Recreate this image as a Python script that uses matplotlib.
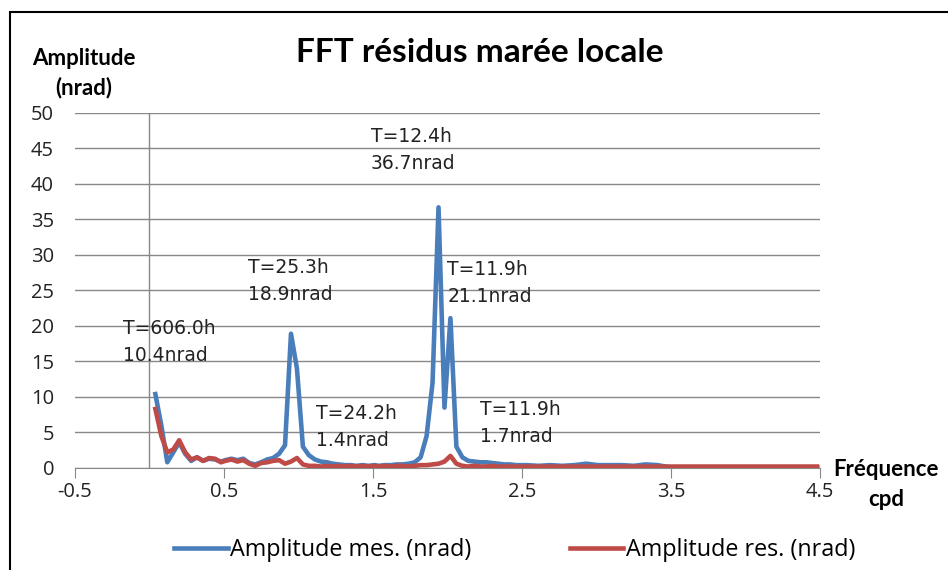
import matplotlib
matplotlib.use("Agg")
import matplotlib.pyplot as plt
from matplotlib.patches import Rectangle

# Data (frequency in cpd, amplitudes in nrad)
freq = [0.04, 0.08, 0.12, 0.16, 0.20, 0.24, 0.28, 0.32, 0.36, 0.40,
        0.44, 0.48, 0.51, 0.55, 0.59, 0.63, 0.67, 0.71, 0.75, 0.79,
        0.83, 0.87, 0.91, 0.95, 0.99, 1.03, 1.07, 1.11, 1.15, 1.19,
        1.23, 1.27, 1.31, 1.35, 1.39, 1.43, 1.47, 1.51, 1.54, 1.58,
        1.62, 1.66, 1.70, 1.74, 1.78, 1.82, 1.86, 1.90, 1.94, 1.98,
        2.02, 2.06, 2.10, 2.14, 2.18, 2.22, 2.26, 2.30, 2.34, 2.38,
        2.42, 2.46, 2.53, 2.61, 2.69, 2.77, 2.85, 2.93, 3.01, 3.09,
        3.17, 3.25, 3.33, 3.41, 3.49, 3.60, 3.80, 4.00, 4.20, 4.40,
        4.48]
amp_mes = [10.4, 6.0, 0.8, 2.2, 3.6, 2.0, 1.0, 1.5, 1.0, 1.3,
           1.2, 0.9, 1.1, 1.3, 1.1, 1.3, 0.7, 0.5, 0.8, 1.2,
           1.4, 2.0, 3.2, 18.9, 14.0, 3.0, 1.8, 1.2, 0.9, 0.8,
           0.6, 0.5, 0.4, 0.4, 0.3, 0.4, 0.3, 0.4, 0.3, 0.4,
           0.4, 0.5, 0.5, 0.6, 0.8, 1.5, 4.5, 12.0, 36.7, 8.5,
           21.1, 3.0, 1.5, 1.0, 0.9, 0.8, 0.8, 0.7, 0.6, 0.5,
           0.5, 0.4, 0.4, 0.3, 0.4, 0.3, 0.4, 0.6, 0.4, 0.4,
           0.4, 0.3, 0.5, 0.4, 0.1, 0.1, 0.1, 0.1, 0.1, 0.1,
           0.1]
amp_res = [8.3, 4.5, 2.2, 2.6, 3.9, 2.2, 1.2, 1.5, 1.0, 1.4,
           1.3, 0.8, 1.0, 1.2, 0.9, 1.1, 0.6, 0.3, 0.7, 0.8,
           1.0, 1.1, 0.6, 0.9, 1.4, 0.5, 0.3, 0.3, 0.2, 0.3,
           0.2, 0.3, 0.2, 0.3, 0.2, 0.3, 0.2, 0.3, 0.2, 0.3,
           0.2, 0.3, 0.3, 0.2, 0.3, 0.4, 0.4, 0.5, 0.6, 0.9,
           1.7, 0.6, 0.3, 0.2, 0.3, 0.2, 0.2, 0.3, 0.2, 0.2,
           0.2, 0.2, 0.2, 0.2, 0.2, 0.2, 0.2, 0.2, 0.2, 0.2,
           0.2, 0.2, 0.2, 0.2, 0.2, 0.2, 0.2, 0.2, 0.2, 0.2,
           0.2]

# peak labels: text, x, y (position of label centre-left)
peak_labels = ["T=606.0h\n10.4nrad", "T=25.3h\n18.9nrad", "T=12.4h\n36.7nrad",
               "T=11.9h\n21.1nrad", "T=24.2h\n1.4nrad", "T=11.9h\n1.7nrad"]
label_x = [-0.18, 0.66, 1.487, 2.0, 1.12, 2.22]
label_y = [17.7, 26.3, 44.8, 26.0, 5.8, 6.3]

x_ticks = [-0.5, 0.5, 1.5, 2.5, 3.5, 4.5]
y_ticks = [0, 5, 10, 15, 20, 25, 30, 35, 40, 45, 50]

BLUE = "#4A7EBB"
RED = "#BE4B48"
GRID = "#888888"

fig = plt.figure(figsize=(9.48, 5.70), dpi=100)
ax = fig.add_axes([0.079, 0.179, 0.786, 0.623])

ax.plot(freq, amp_mes, color=BLUE, lw=3.3, label="Amplitude mes. (nrad)",
        solid_joinstyle="round", zorder=3)
ax.plot(freq, amp_res, color=RED, lw=3.3, label="Amplitude res. (nrad)",
        solid_joinstyle="round", zorder=4)

ax.set_xlim(-0.5, 4.5)
ax.set_ylim(0, 50)
ax.set_xticks(x_ticks)
ax.set_xticklabels([str(t) for t in x_ticks])
ax.set_yticks(y_ticks)

ax.grid(axis="y", color=GRID, lw=1)
ax.set_axisbelow(True)
ax.axvline(0, color=GRID, lw=1, zorder=1)

for s in ["top", "right", "left"]:
    ax.spines[s].set_visible(False)
ax.spines["bottom"].set_color(GRID)
ax.tick_params(axis="x", length=7, color=GRID, direction="out", pad=3,
               labelsize=14.5, labelcolor="#222222")
ax.tick_params(axis="y", length=0, pad=15, labelsize=14.5, labelcolor="#222222")
for lab in ax.get_xticklabels() + ax.get_yticklabels():
    lab.set_family("Open Sans")

for txt, x, y in zip(peak_labels, label_x, label_y):
    ax.text(x, y, txt, fontsize=13.5, family="DejaVu Sans", color="#222222",
            va="center", ha="left", linespacing=1.55, zorder=5)

fig.text(0.506, 0.908, "FFT résidus marée locale", fontsize=24, fontweight="bold",
         family="Lato", ha="center", va="center")
fig.text(0.088, 0.872, "Amplitude\n(nrad)", fontsize=16, fontweight="bold",
         family="Lato", ha="center", va="center", linespacing=1.45)
fig.text(0.935, 0.150, "Fréquence\ncpd", fontsize=16, fontweight="bold",
         family="Lato", ha="center", va="center", linespacing=1.5)

leg = fig.legend(loc="center", bbox_to_anchor=(0.543, 0.035), ncol=2, frameon=False,
                 handlelength=2.3, handletextpad=0.1, columnspacing=4.2,
                 prop={"family": "Open Sans", "size": 16.8})

fig.patches.append(Rectangle((0.011, -0.01), 1.0, 0.989, transform=fig.transFigure,
                             fill=False, edgecolor="black", lw=1.5))

fig.savefig("out.png", dpi=100)
